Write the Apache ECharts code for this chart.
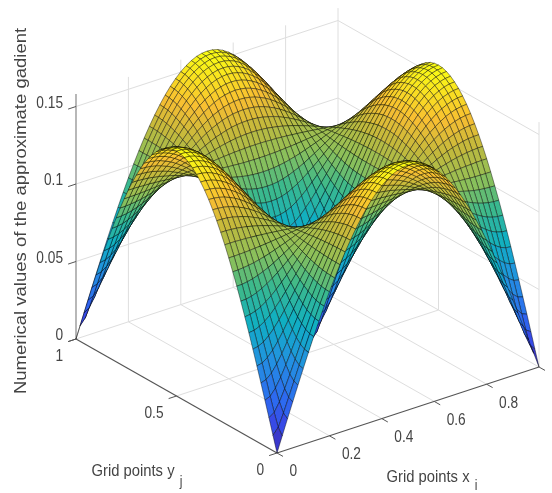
<!DOCTYPE html>
<html>
<head>
<meta charset="utf-8">
<style>html,body{margin:0;padding:0;background:#fff}#c{width:552px;height:493px}</style>
<script src="https://cdn.jsdelivr.net/npm/echarts@6/dist/echarts.min.js"></script>
</head>
<body>
<div id="c"></div>
<script>
// Height values, one half-quadrant of the (symmetric) surface.
const z00=[0,.0099,.0198,.0296,.0393,.0488,.0582,.0673,.0761,.0847,.0929,.1007,.1082,.1152,.1217,.1278,.1334,.1385,.1430,.1469,.1503,.1530,.1552,.1568,.1577,.1580];
const z01=[.0099,.0140,.0221,.0311,.0404,.0496,.0588,.0677,.0765,.0849,.0930,.1008,.1082,.1152,.1217,.1277,.1332,.1383,.1427,.1467,.1500,.1528,.1549,.1565,.1574,.1577];
const z02=[.0198,.0221,.0278,.0352,.0434,.0520,.0606,.0691,.0775,.0856,.0935,.1011,.1083,.1151,.1214,.1274,.1328,.1377,.1421,.1459,.1492,.1519,.1540,.1555,.1565,.1568];
const z03=[.0296,.0311,.0352,.0411,.0481,.0556,.0634,.0713,.0791,.0868,.0943,.1015,.1084,.1149,.1211,.1268,.1320,.1368,.1410,.1447,.1479,.1505,.1526,.1540,.1549,.1552];
const z04=[.0393,.0404,.0434,.0481,.0538,.0603,.0671,.0742,.0814,.0885,.0954,.1021,.1086,.1148,.1205,.1259,.1309,.1354,.1395,.1430,.1461,.1486,.1505,.1519,.1528,.1530];
const z05=[.0488,.0496,.0520,.0556,.0603,.0657,.0716,.0778,.0841,.0905,.0968,.1029,.1089,.1145,.1199,.1249,.1295,.1338,.1375,.1409,.1437,.1461,.1479,.1492,.1500,.1503];
const z06=[.0582,.0588,.0606,.0634,.0671,.0716,.0765,.0817,.0872,.0928,.0983,.1038,.1091,.1143,.1191,.1237,.1279,.1318,.1352,.1383,.1409,.1430,.1447,.1459,.1467,.1469];
const z07=[.0673,.0677,.0691,.0713,.0742,.0778,.0817,.0861,.0907,.0954,.1001,.1048,.1095,.1139,.1182,.1222,.1260,.1294,.1325,.1352,.1375,.1395,.1410,.1421,.1427,.1430];
const z08=[.0761,.0765,.0775,.0791,.0814,.0841,.0872,.0907,.0943,.0982,.1021,.1060,.1098,.1136,.1172,.1206,.1238,.1268,.1294,.1318,.1338,.1354,.1368,.1377,.1383,.1385];
const z09=[.0847,.0849,.0856,.0868,.0885,.0905,.0928,.0954,.0982,.1011,.1041,.1072,.1102,.1132,.1161,.1188,.1214,.1238,.1260,.1279,.1295,.1309,.1320,.1328,.1332,.1334];
const z10=[.0929,.0930,.0935,.0943,.0954,.0968,.0983,.1001,.1021,.1041,.1063,.1084,.1106,.1128,.1149,.1169,.1188,.1206,.1222,.1237,.1249,.1259,.1268,.1274,.1277,.1278];
const z11=[.1007,.1008,.1011,.1015,.1021,.1029,.1038,.1048,.1060,.1072,.1084,.1097,.1111,.1124,.1137,.1149,.1161,.1172,.1182,.1191,.1199,.1205,.1211,.1214,.1217,.1217];
const z12=[.1082,.1082,.1083,.1084,.1086,.1089,.1091,.1095,.1098,.1102,.1106,.1111,.1115,.1119,.1124,.1128,.1132,.1136,.1139,.1143,.1145,.1148,.1149,.1151,.1152,.1152];
const halfRows=[z00,z01,z02,z03,z04,z05,z06,z07,z08,z09,z10,z11,z12];

const xTicks=[0,0.2,0.4,0.6,0.8];
const xTickLabels=['0','0.2','0.4','0.6','0.8'];
const yTicks=[0,0.5,1];
const yTickLabels=['0','0.5','1'];
const zTicks=[0,0.05,0.1,0.15];
const zTickLabels=['0','0.05','0.1','0.15'];
const zTop=0.158;

const CELLS=50, MID=25;
function zAt(i,j){
  const a=i<=MID?i:CELLS-i, b=j<=MID?j:CELLS-j;
  return b<=12 ? halfRows[b][a] : halfRows[MID-b][MID-a];
}
// fixed view of the 3D box, in plot units
function project(x,y,z){
  return [277+262*x-201*y, 453-86*x-114*y-1550*z];
}
const colorStops=[[0,53,42,135],[.07,60,60,225],[.18,45,105,240],[.32,35,145,225],[.45,15,175,195],[.57,60,185,140],[.67,140,192,90],[.78,195,185,60],[.87,248,190,50],[1,249,251,20]];
function parula(t){
  t=Math.max(0,Math.min(1,t));
  for(let k=1;k<colorStops.length;k++){
    const p=colorStops[k-1],q=colorStops[k];
    if(t<=q[0]){
      const f=(t-p[0])/(q[0]-p[0]);
      return 'rgb('+[1,2,3].map(n=>Math.round(p[n]+(q[n]-p[n])*f)).join(',')+')';
    }
  }
  return 'rgb(249,251,20)';
}

// surface cells, far corner first
const cells=[];
for(let j=CELLS-1;j>=0;j--){
  for(let i=CELLS-1;i>=0;i--){
    cells.push([i,j]);
  }
}
// wall and floor grid lines
const gridSegs=[];
const xGrid=[0.2,0.4,0.6,0.8];
const yGrid=[0.5];
xGrid.forEach(x=>{
  gridSegs.push([x,0,0,x,1,0]);
  gridSegs.push([x,1,0,x,1,zTop]);
});
yGrid.forEach(y=>{
  gridSegs.push([0,y,0,1,y,0]);
  gridSegs.push([1,y,0,1,y,zTop]);
});
gridSegs.push([0,1,0,1,1,0],[1,0,0,1,1,0],[1,1,0,1,1,zTop],[1,0,0,1,0,zTop]);
zTicks.forEach(z=>{
  if(z>0){gridSegs.push([0,1,z,1,1,z]);gridSegs.push([1,1,z,1,0,z]);}
});
// axis lines and ticks
const axisSegs=[[0,0,0,1,0,0,'#555'],[0,0,0,0,1,0,'#555'],[0,1,0,0,1,zTop,'#888']];
const tickSegs=[];
[0,0.2,0.4,0.6,0.8,1].forEach(x=>tickSegs.push([x,0,0,x,-0.03,0]));
yTicks.forEach(y=>tickSegs.push([0,y,0,-0.03,y,0]));
zTicks.forEach(z=>tickSegs.push([0,1,z,-0.03,1,z]));

// tick labels and titles: [text,x,y,z,dx,dy,align,size,rotated]
const textItems=[];
xTicks.forEach((x,n)=>textItems.push([xTickLabels[n],x,0,0,12.5,19,'left',13.7,0]));
yTicks.forEach((y,n)=>textItems.push([yTickLabels[n],0,y,0,-13,18,'right',13.7,0]));
zTicks.forEach((z,n)=>textItems.push([zTickLabels[n],0,1,z,-13,-3,'right',13.7,0]));
const titles=[
  ['Grid points y',133,471,'center',14.8,0],
  ['j',181,482,'center',12,0],
  ['Grid points x',428,477,'center',14.8,0],
  ['i',476,486,'center',12,0],
  ['Numerical values of the approximate gadient',22,211,'center',16.1,1]
];

function textEl(s,px,py,align,size,rot){
  return {type:'text',x:px,y:py,rotation:rot?Math.PI/2:0,scaleX:rot?1.15:1,scaleY:rot?1:1.15,
    style:{text:s,align:align,verticalAlign:'middle',fontFamily:'"Liberation Sans",Arial,sans-serif',fontSize:size,fill:'#444'}};
}
function segSeries(data,color,width){
  return {type:'custom',coordinateSystem:'cartesian2d',silent:true,clip:false,animation:false,progressive:0,
    data:data,
    renderItem:function(p,api){
      const a=api.coord(project(api.value(0),api.value(1),api.value(2)));
      const b=api.coord(project(api.value(3),api.value(4),api.value(5)));
      return {type:'line',shape:{x1:a[0],y1:a[1],x2:b[0],y2:b[1]},style:{stroke:color,lineWidth:width,fill:null}};
    }};
}
const chart=echarts.init(document.getElementById('c'),null,{renderer:'canvas'});
chart.setOption({
  animation:false,
  backgroundColor:'#fff',
  grid:{left:0,top:0,width:552,height:493},
  xAxis:{type:'value',min:0,max:552,show:false},
  yAxis:{type:'value',min:0,max:493,inverse:true,show:false},
  series:[
    segSeries(gridSegs,'#dedede',1),
    {type:'custom',coordinateSystem:'cartesian2d',silent:true,clip:false,animation:false,progressive:0,
     data:axisSegs,
     renderItem:function(p,api){
       const d=axisSegs[p.dataIndex];
       const a=api.coord(project(d[0],d[1],d[2])),b=api.coord(project(d[3],d[4],d[5]));
       return {type:'line',shape:{x1:a[0],y1:a[1],x2:b[0],y2:b[1]},style:{stroke:d[6],lineWidth:1.2}};
     }},
    segSeries(tickSegs,'#555',1),
    {type:'custom',coordinateSystem:'cartesian2d',silent:true,clip:false,animation:false,progressive:0,
     data:cells,
     renderItem:function(p,api){
       const i=api.value(0),j=api.value(1);
       const corners=[[i,j],[i+1,j],[i+1,j+1],[i,j+1]];
       let sum=0;
       const pts=corners.map(c=>{
         const z=zAt(c[0],c[1]);
         sum+=z;
         return api.coord(project(c[0]/CELLS,c[1]/CELLS,z));
       });
       return {type:'polygon',shape:{points:pts},
         style:{fill:parula(sum/4/zTop),stroke:'rgba(0,0,0,0.65)',lineWidth:0.65,lineJoin:'round'}};
     }},
    {type:'custom',coordinateSystem:'cartesian2d',silent:true,clip:false,animation:false,progressive:0,
     data:textItems.map((t,n)=>[n]),
     renderItem:function(p,api){
       const t=textItems[p.dataIndex];
       const c=api.coord(project(t[1],t[2],t[3]));
       return textEl(t[0],c[0]+t[4],c[1]+t[5],t[6],t[7],t[8]);
     }},
    {type:'custom',coordinateSystem:'cartesian2d',silent:true,clip:false,animation:false,progressive:0,
     data:titles.map((t,n)=>[n]),
     renderItem:function(p,api){
       const t=titles[p.dataIndex];
       const c=api.coord([t[1],t[2]]);
       return textEl(t[0],c[0],c[1],t[3],t[4],t[5]);
     }}
  ]
});
</script>
</body>
</html>
